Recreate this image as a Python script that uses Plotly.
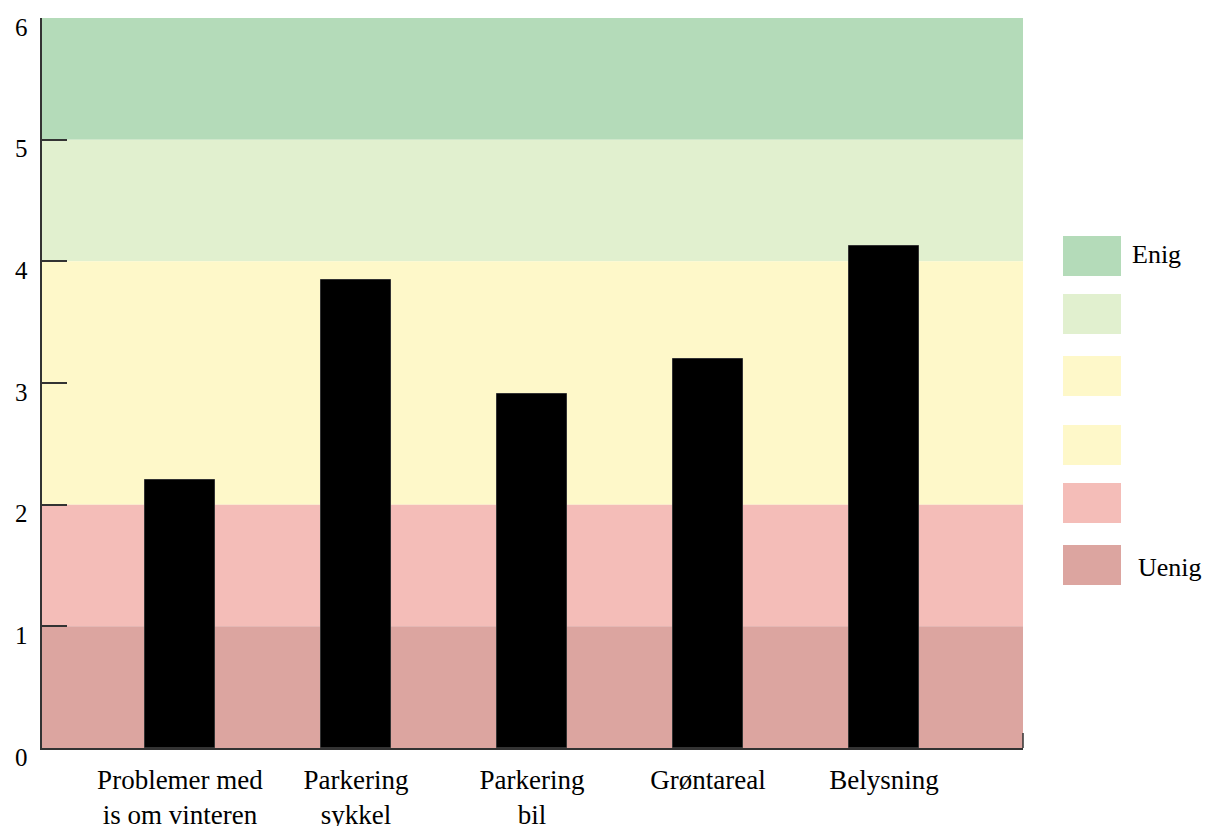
import plotly.graph_objects as go

categories = ["Problemer med<br>is om vinteren", "Parkering<br>sykkel", "Parkering<br>bil", "Grøntareal", "Belysning"]
values = [2.20, 3.85, 2.91, 3.20, 4.13]

band_lows = [5, 4, 2, 1, 0]
band_highs = [6, 5, 4, 2, 1]
band_colors = ["#B4DBB9", "#E1F0CF", "#FEF8C9", "#F4BDB8", "#DCA5A0"]

legend_colors = ["#B4DBB9", "#E1F0CF", "#FEF8C9", "#FEF8C9", "#F4BDB8", "#DCA5A0"]
legend_labels = ["Enig", "", "", "", "", "Uenig"]

y_ticks = [0, 1, 2, 3, 4, 5, 6]

W, H = 1208, 826
L, R, T, B = 42, 185, 18, 78
pw = W - L - R
ph = H - T - B

SERIF = "Liberation Serif, Times New Roman, serif"

fig = go.Figure()
fig.add_trace(go.Bar(x=list(range(len(categories))), y=values, width=0.4,
                     marker=dict(color="black", line=dict(color="#333", width=1)),
                     showlegend=False, hoverinfo="skip"))

shapes = []
for lo, hi, c in zip(band_lows, band_highs, band_colors):
    shapes.append(dict(type="rect", xref="paper", yref="y", x0=0, x1=1, y0=lo, y1=hi,
                       fillcolor=c, line=dict(width=0), layer="below"))
# right end tick of x axis
shapes.append(dict(type="line", xref="paper", yref="paper", x0=1, x1=1, y0=0, y1=15/ph,
                   line=dict(color="#333", width=1.5)))

# legend swatches
leg_tops = [236, 294, 356, 425, 483, 545]
annotations = []
for top, c, lab in zip(leg_tops, legend_colors, legend_labels):
    y0 = 1 - (top + 40 - T) / ph
    y1 = 1 - (top - T) / ph
    x0 = (1063 - L) / pw
    x1 = (1121 - L) / pw
    shapes.append(dict(type="rect", xref="paper", yref="paper", x0=x0, x1=x1, y0=y0, y1=y1,
                       fillcolor=c, line=dict(width=0)))
    if lab:
        annotations.append(dict(xref="paper", yref="paper", x=(1130 - L) / pw if lab == "Enig" else (1136 - L) / pw,
                                y=(y0 + y1) / 2 + (2 / ph if lab == "Enig" else -2 / ph),
                                text=lab, showarrow=False, xanchor="left", yanchor="middle",
                                font=dict(family=SERIF, size=26, color="black")))

for t in y_ticks:
    annotations.append(dict(xref="paper", yref="y", x=(21 - L) / pw, y=t, yshift=-9,
                            text=str(t), showarrow=False, xanchor="center", yanchor="middle",
                            font=dict(family=SERIF, size=25, color="black")))

fig.update_layout(
    width=W, height=H,
    margin=dict(l=L, r=R, t=T, b=B, autoexpand=False),
    paper_bgcolor="white", plot_bgcolor="white",
    shapes=shapes, annotations=annotations,
    bargap=0,
    xaxis=dict(range=[-0.784, 4.79], tickmode="array", tickvals=list(range(len(categories))),
               ticktext=categories, showgrid=False, zeroline=False, showline=True,
               linecolor="#333", linewidth=1.5, ticks="", ticklabelstandoff=7,
               tickfont=dict(family=SERIF, size=27, color="black")),
    yaxis=dict(range=[0, 6], tickvals=y_ticks, showticklabels=False, showgrid=False, zeroline=False,
               showline=True, linecolor="#333", linewidth=1.5, ticks="inside", ticklen=25,
               tickcolor="#333", tickwidth=1.5),
)

fig.write_html("out.html", config={"displayModeBar": False},
               post_script="document.body.style.margin='0';document.body.style.overflow='hidden';")
